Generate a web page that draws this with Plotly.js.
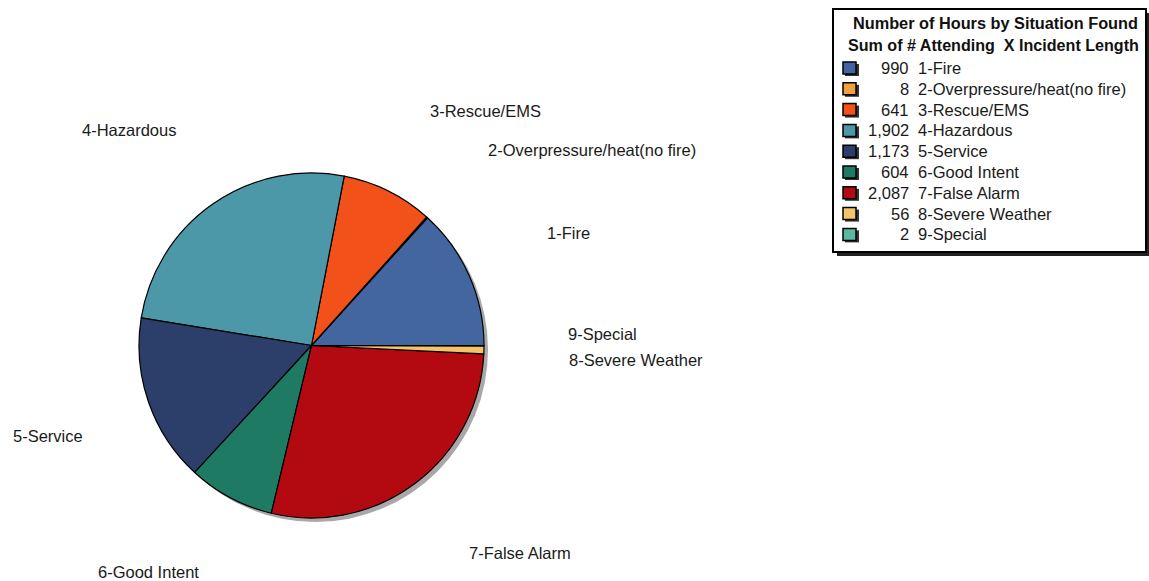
<!DOCTYPE html>
<html>
<head>
<meta charset="utf-8">
<script src="https://cdn.plot.ly/plotly-3.0.1.min.js"></script>
<style>
  html, body { margin: 0; padding: 0; background: #fff; }
  #chart { width: 1149px; height: 581px; }
</style>
</head>
<body>
<div id="chart"></div>
<script>
// ---- data ----
const categories = ["1-Fire", "2-Overpressure/heat(no fire)", "3-Rescue/EMS", "4-Hazardous",
                    "5-Service", "6-Good Intent", "7-False Alarm", "8-Severe Weather", "9-Special"];
const hours = [990, 8, 641, 1902, 1173, 604, 2087, 56, 2];
const sliceColors = ["#4466A0", "#F4A040", "#F25119", "#4C97A8", "#2C3F6A",
                     "#1E7A63", "#B30A11", "#F5C46A", "#5BB7A0"];
const legendTitle = ["Number of Hours by Situation Found", "Sum of # Attending  X Incident Length"];

// ---- layout helpers (pixel -> paper) ----
const W = 1149, H = 581;
const px = x => x / W;
const py = y => 1 - y / H;

// label placement (pixel, left / middle) for outside slice labels
const labelPos = [[545, 233], [486, 150], [428, 111], [80, 130], [11, 436],
                  [96, 572], [467, 553], [567, 360], [566, 334]];

const total = hours.reduce((a, b) => a + b, 0);
// first slice starts at 3 o'clock and runs counterclockwise
const startRotation = 90 - 360 * hours[0] / total;

const pie = {
  type: "pie",
  values: hours,
  labels: categories,
  sort: false,
  direction: "counterclockwise",
  rotation: startRotation,
  marker: { colors: sliceColors, line: { color: "#000", width: 1.2 } },
  textinfo: "none",
  hoverinfo: "none",
  showlegend: false,
  domain: { x: [px(138), px(485)], y: [py(518), py(173)] }
};
const shadow = {
  type: "pie",
  values: [1],
  labels: ["shadow"],
  marker: { colors: ["#a8a8a8"], line: { width: 0 } },
  textinfo: "none",
  hoverinfo: "none",
  showlegend: false,
  domain: { x: [px(142), px(489)], y: [py(522), py(177)] }
};

const annotations = [];
const shapes = [];
const font = { family: "Liberation Sans, Arial, sans-serif", size: 16.5, color: "#1a1a1a" };

categories.forEach((c, i) => {
  annotations.push({
    text: c, xref: "paper", yref: "paper", x: px(labelPos[i][0]), y: py(labelPos[i][1]),
    xanchor: "left", yanchor: "middle", showarrow: false, font: font
  });
});

// legend box
const bx0 = 833, by0 = 9, bx1 = 1146, by1 = 252;
shapes.push({ type: "rect", xref: "paper", yref: "paper", x0: px(bx0 + 4), x1: px(bx1 + 4),
  y0: py(by0 + 4), y1: py(by1 + 4), fillcolor: "#222", line: { width: 0 }, layer: "above" });
shapes.push({ type: "rect", xref: "paper", yref: "paper", x0: px(bx0), x1: px(bx1),
  y0: py(by0), y1: py(by1), fillcolor: "#fff", line: { color: "#000", width: 2 }, layer: "above" });

annotations.push({ text: "<b>" + legendTitle[0] + "</b>", xref: "paper", yref: "paper",
  x: px(995), y: py(23), xanchor: "center", yanchor: "middle", showarrow: false,
  font: { family: font.family, size: 16.3, color: "#111" } });
annotations.push({ text: "<b>" + legendTitle[1] + "</b>", xref: "paper", yref: "paper",
  x: px(846), y: py(45), xanchor: "left", yanchor: "middle", showarrow: false,
  font: { family: font.family, size: 16.1, color: "#111" } });

categories.forEach((c, i) => {
  const yc = 68 + i * 20.8;
  shapes.push({ type: "rect", xref: "paper", yref: "paper", x0: px(845), x1: px(859),
    y0: py(yc - 4), y1: py(yc + 8), fillcolor: "#333", line: { width: 0 }, layer: "above" });
  shapes.push({ type: "rect", xref: "paper", yref: "paper", x0: px(843), x1: px(856),
    y0: py(yc - 6), y1: py(yc + 6), fillcolor: sliceColors[i], line: { color: "#000", width: 1.5 }, layer: "above" });
  annotations.push({ text: hours[i].toLocaleString("en-US"), xref: "paper", yref: "paper",
    x: px(911), y: py(yc), xanchor: "right", yanchor: "middle", showarrow: false, font: font });
  annotations.push({ text: c, xref: "paper", yref: "paper",
    x: px(916), y: py(yc), xanchor: "left", yanchor: "middle", showarrow: false, font: font });
});

const layout = {
  width: W, height: H,
  margin: { l: 0, r: 0, t: 0, b: 0 },
  paper_bgcolor: "#fff",
  showlegend: false,
  annotations: annotations,
  shapes: shapes
};

Plotly.newPlot("chart", [shadow, pie], layout, { displayModeBar: false, staticPlot: true });
</script>
</body>
</html>
